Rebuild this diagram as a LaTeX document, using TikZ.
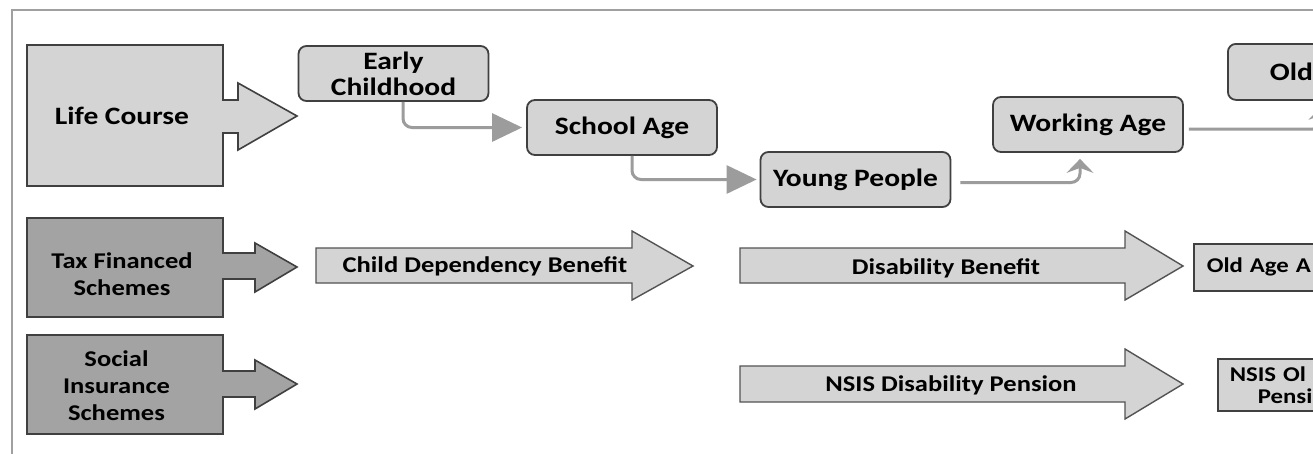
\documentclass[tikz,border=0pt]{standalone}
\usepackage{fontspec}
\setmainfont{Carlito}[FakeStretch=1.18]
\usetikzlibrary{arrows.meta,calc}
\definecolor{lightfill}{HTML}{D4D4D4}
\definecolor{darkfill}{HTML}{A3A3A3}
\definecolor{edgec}{HTML}{404040}
\definecolor{connc}{HTML}{9C9C9C}
\definecolor{framec}{HTML}{A0A0A0}
\begin{document}
\begin{tikzpicture}[x=1pt,y=-1pt,
  bigtxt/.style={font=\fontsize{25}{26}\selectfont\bfseries},
  smalltxt/.style={font=\fontsize{22.5}{27}\selectfont\bfseries},
  midtxt/.style={font=\fontsize{21}{24}\selectfont\bfseries},
  stage/.style={draw=edgec, line width=1.8pt, fill=lightfill, rounded corners=8pt,
    minimum width=190pt, minimum height=55pt, inner sep=0pt, align=center, bigtxt},
  plainbox/.style={draw=edgec, line width=1.6pt, fill=lightfill, inner ysep=0pt, align=left},
  catshape/.style={draw=edgec, line width=1.6pt},
  benefit/.style={draw=edgec!90, line width=1.4pt, fill=lightfill},
  conn/.style={draw=connc, line width=3pt, rounded corners=9pt},
  bighead/.style={-{Triangle[length=30pt,width=28pt]}},
  smallhead/.style={-{Stealth[length=14pt,width=27pt,inset=5pt]}},
]
\useasboundingbox (0,0) rectangle (1313,453);
\clip (0,0) rectangle (1313,453);
\fill[white] (0,0) rectangle (1313,453);

% frame
\draw[framec, line width=2.5pt] (12,470) -- (12,10) -- (1330,10);

% left category shapes
\filldraw[catshape, fill=lightfill] (27,45) -- (223,45) -- (223,100) -- (238,100) -- (238,83) -- (297,116)
  -- (238,150) -- (238,133) -- (223,133) -- (223,186) -- (27,186) -- cycle;
\node[bigtxt] (life) at (122,116) {Life Course};

\filldraw[catshape, fill=darkfill] (27,218) -- (223,218) -- (223,253) -- (255,253) -- (255,243) -- (297,267)
  -- (255,292) -- (255,279) -- (223,279) -- (223,317) -- (27,317) -- cycle;
\node[smalltxt, align=center] (tax) at (122,274) {Tax Financed\\Schemes};

\filldraw[catshape, fill=darkfill] (27,335) -- (223,335) -- (223,371) -- (255,371) -- (255,360) -- (297,384)
  -- (255,409) -- (255,397) -- (223,397) -- (223,434) -- (27,434) -- cycle;
\node[smalltxt, align=center] (soc) at (116.5,386) {Social\\Insurance\\Schemes};

% life stages
\node[stage] (ec) at (393.5,73.5) {Early\\Childhood};
\node[stage] (sa) at (622,127.5) {School Age};
\node[stage] (yp) at (855.5,179.5) {Young People};
\node[stage] (wa) at (1088,124.5) {Working Age};
\node[stage, anchor=north west, minimum height=56pt, inner xsep=42pt, text width=106pt, align=left] (old) at (1227,43) {Old};

% connectors
\draw[conn, bighead, shorten >=4pt] ([xshift=9.5pt]ec.south) |- (sa.west);
\draw[conn, bighead, shorten >=3pt] ([xshift=10pt]sa.south) |- (yp.west);
\draw[conn, smallhead, shorten >=6pt] ([xshift=9pt,yshift=-3pt]yp.east) -| ([xshift=-8pt]wa.south);
\draw[conn, smallhead, shorten >=5pt] ([xshift=5pt,yshift=-4.5pt]wa.east) -| ($(old.south west)+(95,0)$);

% benefit arrows
\filldraw[benefit] (316,248) -- (632,248) -- (632,231) -- (693,266) -- (632,300) -- (632,283) -- (316,283) -- cycle;
\node[smalltxt] (cdb) at (485,266) {Child Dependency Benefit};

\filldraw[benefit] (740,248) -- (1125,248) -- (1125,231) -- (1183,266) -- (1125,300) -- (1125,283) -- (740,283) -- cycle;
\node[smalltxt] (db) at (946,268) {Disability Benefit};

\filldraw[benefit] (740,366) -- (1125,366) -- (1125,349) -- (1183,384) -- (1125,419) -- (1125,402) -- (740,402) -- cycle;
\node[smalltxt] (ndp) at (951,385) {NSIS Disability Pension};

\node[plainbox, midtxt, anchor=north west, minimum height=47pt, inner xsep=13pt, text width=150pt] (oaa) at (1193,243) {Old Age A};
\node[plainbox, font=\fontsize{21}{22}\selectfont\bfseries, anchor=north west, minimum height=52pt, inner xsep=12pt, text width=150pt] (nop) at (1217,358) {NSIS Ol\\\hspace*{28pt}Pensi};
\end{tikzpicture}
\end{document}
